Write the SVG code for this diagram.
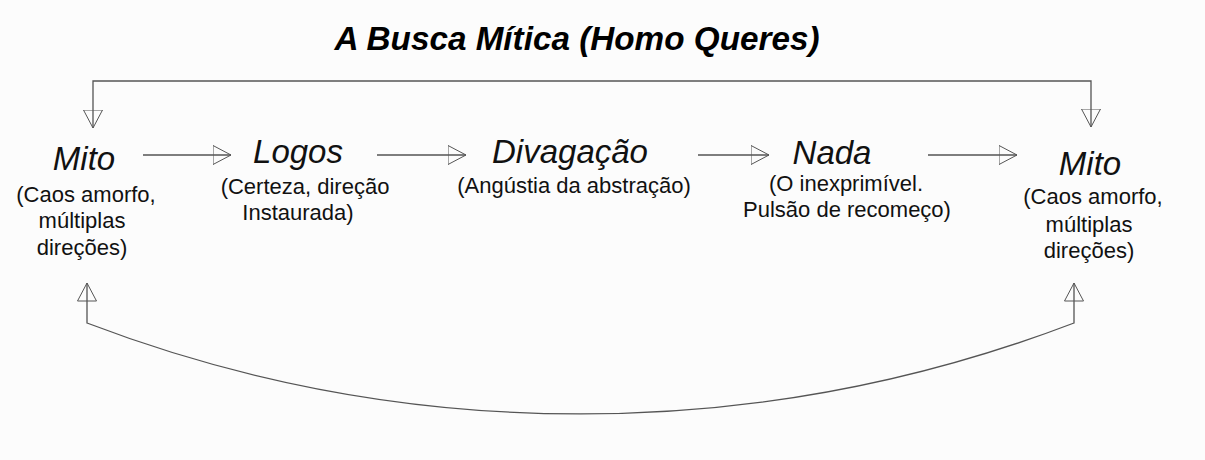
<svg xmlns="http://www.w3.org/2000/svg" width="1205" height="460" viewBox="0 0 1205 460">
<defs>
<marker id="tri" viewBox="0 0 19 20" refX="18.5" refY="10" markerWidth="19" markerHeight="20" markerUnits="userSpaceOnUse" orient="auto-start-reverse">
<path d="M0.5,0.5 L18.5,10 L0.5,19.5 Z" fill="none" stroke="#555" stroke-width="1"/>
</marker>
<style>
.title{font-family:"Liberation Sans",Arial,sans-serif;font-weight:bold;font-style:italic;font-size:34px;fill:#000;text-anchor:middle}
.head{font-family:"Liberation Sans",Arial,sans-serif;font-style:italic;font-size:33px;fill:#111;text-anchor:middle}
.sub{font-family:"Liberation Sans",Arial,sans-serif;font-size:22px;fill:#111;text-anchor:middle}
.conn{fill:none;stroke:#555;stroke-width:1.3;marker-end:url(#tri)}
.both{marker-start:url(#tri)}
</style>
</defs>
<rect width="1205" height="460" fill="#fcfcfc"/>
<text class="title" x="577" y="50" textLength="485" lengthAdjust="spacingAndGlyphs">A Busca Mítica (Homo Queres)</text>
<g id="connectors">
<path class="conn" d="M143,155 L231,155"/>
<path class="conn" d="M377,155 L466,155"/>
<path class="conn" d="M698,155 L769,155"/>
<path class="conn" d="M928,155 L1017,155"/>
<path class="conn both" d="M93,128 L93,81 L1091,81 L1091,127"/>
<path class="conn both" d="M87,283 L87,323 A1384,1384 0 0 0 1074,323 L1074,283"/>
</g>
<g id="mito1">
<text class="head" x="84" y="170">Mito</text>
<text class="sub" x="86" y="202">(Caos amorfo,</text>
<text class="sub" x="82" y="228">múltiplas</text>
<text class="sub" x="82" y="255">direções)</text>
</g>
<g id="logos">
<text class="head" x="298" y="163">Logos</text>
<text class="sub" x="305" y="194">(Certeza, direção</text>
<text class="sub" x="298" y="220">Instaurada)</text>
</g>
<g id="divagacao">
<text class="head" x="570" y="163">Divagação</text>
<text class="sub" x="574" y="193">(Angústia da abstração)</text>
</g>
<g id="nada">
<text class="head" x="832" y="164">Nada</text>
<text class="sub" x="846" y="191">(O inexprimível.</text>
<text class="sub" x="847" y="217">Pulsão de recomeço)</text>
</g>
<g id="mito2">
<text class="head" x="1090" y="175">Mito</text>
<text class="sub" x="1093" y="204">(Caos amorfo,</text>
<text class="sub" x="1089" y="232">múltiplas</text>
<text class="sub" x="1089" y="258">direções)</text>
</g>
</svg>
